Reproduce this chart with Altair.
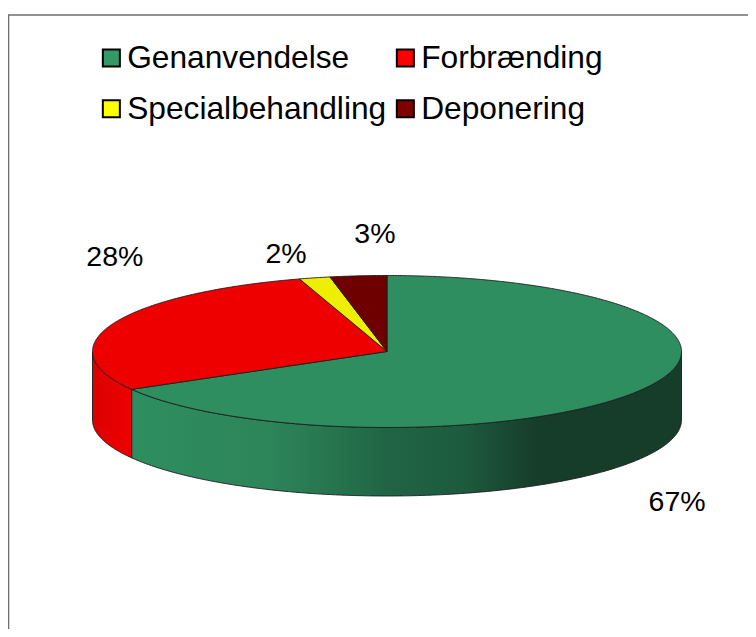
import math
import altair as alt
import pandas as pd

categories = ["Genanvendelse", "Forbrænding", "Specialbehandling", "Deponering"]
shares = [66.7, 28.5, 1.7, 3.1]
share_labels = ["67%", "28%", "2%", "3%"]
legend_colors = ["#339966", "#FF0000", "#FFFF00", "#800000"]
top_colors = ["#2E8E5F", "#EE0000", "#EEEE00", "#6E0000"]

# label anchors, in pie units (radius = 1 on both axes)
label_x = [0.985, -0.924, -0.343, -0.041]
label_y = [-1.98, 1.25, 1.28, 1.54]

W, H = 740, 621
CX, CY, RX, RY = 379.0, 343.5, 294.5, 76.0
DEPTH = 68.5 / RY

x_scale = alt.Scale(domain=[-1, 1], range=[CX - RX, CX + RX], nice=False, zero=False)
y_scale = alt.Scale(domain=[-1, 1], range=[CY + RY, CY - RY], nice=False, zero=False)
X = lambda f: alt.X(f, type="quantitative", scale=x_scale, axis=None)
Y = lambda f: alt.Y(f, type="quantitative", scale=y_scale, axis=None)


def arc_points(a0, a1):
    n = max(2, int(abs(a1 - a0) * 2) + 1)
    return [(math.sin(math.radians(a0 + (a1 - a0) * i / (n - 1))),
             math.cos(math.radians(a0 + (a1 - a0) * i / (n - 1)))) for i in range(n)]


def sector_rows(a0, a1):
    """Vertical spans of the pie sector between two clockwise angles."""
    poly = [(0.0, 0.0)] + arc_points(a0, a1)
    xs = set()
    for px, _ in poly:
        xs.update([px - 1e-6, px, px + 1e-6])
    rows = []
    for x in sorted(xs):
        hits = []
        for (x1, y1), (x2, y2) in zip(poly, poly[1:] + poly[:1]):
            if x1 == x2:
                continue
            if min(x1, x2) <= x <= max(x1, x2):
                hits.append(y1 + (y2 - y1) * (x - x1) / (x2 - x1))
        if len(hits) >= 2:
            rows.append({"x": x, "y": max(hits), "y2": min(hits)})
    return pd.DataFrame(rows)


def wall_rows(a0, a1):
    pts = sorted(arc_points(a0, a1))
    return pd.DataFrame([{"x": px, "y": -math.sqrt(max(0, 1 - px * px)),
                          "y2": -math.sqrt(max(0, 1 - px * px)) - DEPTH} for px, _ in pts])


angles = [0.0]
for s in shares:
    angles.append(angles[-1] + s * 3.6)

EDGE = "#1c1c1c"


def area(df, fill):
    return alt.Chart(df).mark_area(fill=fill, stroke=EDGE, strokeWidth=0.9, opacity=1).encode(
        x=X("x"), y=Y("y"), y2=alt.Y2("y2"))


green_wall = alt.Gradient(gradient="linear", x1=0, y1=0, x2=1, y2=0, stops=[
    alt.GradientStop(offset=0, color="#2E8E5F"),
    alt.GradientStop(offset=0.25, color="#2D855A"),
    alt.GradientStop(offset=0.36, color="#27754E"),
    alt.GradientStop(offset=0.47, color="#1F6444"),
    alt.GradientStop(offset=0.60, color="#1E5B3E"),
    alt.GradientStop(offset=0.74, color="#163C2A"),
    alt.GradientStop(offset=1, color="#163C2A"),
])
red_wall = alt.Gradient(gradient="linear", x1=0, y1=0, x2=1, y2=0, stops=[
    alt.GradientStop(offset=0, color="#DC0000"),
    alt.GradientStop(offset=1, color="#EE0000"),
])

# the legend grid fills column by column: this order reads row by row as in the reference
legend_order = [0, 2, 1, 3]
legend_domain = [categories[i] for i in legend_order]
legend_range = [legend_colors[i] for i in legend_order]

legend_df = pd.DataFrame({"Kategori": categories, "x": [0.0] * 4, "y": [0.0] * 4})
legend_layer = alt.Chart(legend_df).mark_square(size=4).encode(
    x=X("x"), y=Y("y"),
    fill=alt.Fill("Kategori:N",
                  scale=alt.Scale(domain=legend_domain, range=legend_range),
                  sort=legend_domain,
                  legend=alt.Legend(
                      title=None, orient="none", legendX=87.5, legendY=34, columns=2,
                      symbolType="square", symbolSize=290, symbolStrokeColor="#000000",
                      symbolStrokeWidth=2, labelFont="Liberation Sans", labelFontSize=31.7,
                      labelColor="#000000", labelLimit=400, labelOffset=0,
                      columnPadding=3, rowPadding=18, symbolOpacity=1)),
)

walls = [area(wall_rows(90.0, angles[1]), green_wall),
         area(wall_rows(angles[1], 270.0), red_wall)]
tops = [area(sector_rows(angles[i], angles[i + 1]), top_colors[i]) for i in range(4)]

labels_df = pd.DataFrame({"t": share_labels, "x": label_x, "y": label_y})
labels = alt.Chart(labels_df).mark_text(
    font="Liberation Sans", fontSize=28.5, color="#000000", align="center", baseline="middle"
).encode(x=X("x"), y=Y("y"), text="t:N")

frame_left = alt.Chart(pd.DataFrame({"a": [0]})).mark_rule(color="#6E6E6E", strokeWidth=1.5).encode(
    x=alt.value(0.5), y=alt.value(7), y2=alt.value(H))
frame_top = alt.Chart(pd.DataFrame({"a": [0]})).mark_rule(color="#6E6E6E", strokeWidth=1.5).encode(
    x=alt.value(0), x2=alt.value(W), y=alt.value(7))

chart = alt.layer(frame_left, frame_top, legend_layer, *walls, *tops, labels).properties(
    width=W, height=H, padding=0, background="#FFFFFF",
    autosize=alt.AutoSizeParams(type="none"),
).configure_view(stroke=None)

chart.save("out.html", embed_options={"renderer": "svg", "actions": False})
